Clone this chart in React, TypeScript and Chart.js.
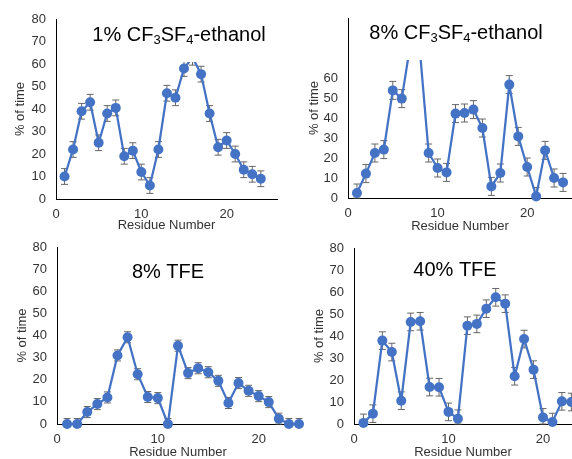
import React, { useEffect, useRef } from 'react';
import { Chart, registerables } from 'chart.js';

Chart.register(...registerables);

// ---------- data ----------
const residues24 = [1, 2, 3, 4, 5, 6, 7, 8, 9, 10, 11, 12, 13, 14, 15, 16, 17, 18, 19, 20, 21, 22, 23, 24];
const residues23 = [1, 2, 3, 4, 5, 6, 7, 8, 9, 10, 11, 12, 13, 14, 15, 16, 17, 18, 19, 20, 21, 22, 23];

const cf1Values = [10, 22, 39, 43, 25, 38, 40.5, 19, 21.5, 12, 6, 22, 47, 45, 58, 63, 55.5, 38, 23, 26, 20, 13, 11, 9];
const cf1Errors = [3.5, 3.5, 3.5, 3.5, 3.5, 3.5, 3.5, 3.5, 3.5, 3.5, 3.5, 3.5, 3.5, 3.5, 3.5, 3.5, 3.5, 3.5, 3.5, 3.5, 3.5, 3.5, 3.5, 3.5];

const cf8Values = [2.5, 12.2, 22.5, 24.2, 53.8, 49.7, 78, 75, 22.5, 15, 12.8, 42.2, 42.5, 44.2, 35, 5.8, 12.5, 56.7, 30.8, 15.5, 0.8, 23.8, 10, 7.8];
const cf8Errors = [4.5, 4.5, 4.5, 4.5, 4.5, 4.5, 4.5, 4.5, 4.5, 4.5, 4.5, 4.5, 4.5, 4.5, 4.5, 4.5, 4.5, 4.5, 4.5, 4.5, 4.5, 4.5, 4.5, 4.5];

const tfe8Values = [0, 0, 5.4, 9, 12, 31, 39.2, 22.5, 12.2, 11.7, 0, 35.4, 23, 25.2, 23.4, 19.5, 9.5, 18.5, 15, 12.6, 9.9, 2.4, 0, 0];
const tfe8Errors = [2.5, 2.5, 2.5, 2.5, 2.5, 2.5, 2.5, 2.5, 2.5, 2.5, 2.5, 2.5, 2.5, 2.5, 2.5, 2.5, 2.5, 2.5, 2.5, 2.5, 2.5, 2.5, 2.5, 2.5];

const tfe40Values = [0.5, 4.7, 37.9, 32.7, 10.6, 46.4, 46.7, 16.8, 16.7, 5.5, 2.4, 44.7, 45.5, 52.4, 57.6, 54.7, 21.7, 38.6, 24.7, 3, 0.9, 10.3, 10];
const tfe40Errors = [4, 4, 4, 4, 4, 4, 4, 4, 4, 4, 4, 4, 4, 4, 4, 4, 4, 4, 4, 4, 4, 4, 4];

const title1 = [{ t: '1% CF' }, { t: '3', sub: true }, { t: 'SF' }, { t: '4', sub: true }, { t: '-ethanol' }];
const title2 = [{ t: '8% CF' }, { t: '3', sub: true }, { t: 'SF' }, { t: '4', sub: true }, { t: '-ethanol' }];
const title3 = [{ t: '8% TFE' }];
const title4 = [{ t: '40% TFE' }];

const xAxisTitle = 'Residue Number';
const yAxisTitle = '% of time';

// ---------- style ----------
const FONT = '"Liberation Sans", Arial, Helvetica, sans-serif';
const BLUE = '#4472C4';
const TEXT = '#333333';
const ERR = '#666666';

type Seg = { t: string; sub?: boolean };

interface PanelProps {
  left: number; top: number; width: number; height: number;
  padTop: number; padRight: number; yWidth: number; xHeight: number;
  xMax: number; yMax: number; yLabelMax: number;
  xs: number[]; ys: number[]; errs: number[];
  title: Seg[]; titleX: number; titleBase: number; maskBottom: number | null;
  yTitlePad: number; xTitlePad: number;
}

function Panel(p: PanelProps) {
  const ref = useRef<HTMLCanvasElement | null>(null);
  useEffect(() => {
    if (!ref.current) return;
    const errorBars = {
      id: 'errorBars',
      beforeDatasetsDraw(chart: any) {
        const ctx = chart.ctx;
        const meta = chart.getDatasetMeta(0);
        const ys = chart.scales.y;
        ctx.save();
        ctx.strokeStyle = ERR;
        ctx.lineWidth = 1;
        meta.data.forEach((pt: any, i: number) => {
          const v = p.ys[i];
          const e = p.errs[i];
          const yt = ys.getPixelForValue(v + e);
          const yb = ys.getPixelForValue(Math.max(0, v - e));
          const x = pt.x;
          ctx.beginPath();
          ctx.moveTo(x, yt); ctx.lineTo(x, yb);
          ctx.moveTo(x - 3.5, yt); ctx.lineTo(x + 3.5, yt);
          ctx.moveTo(x - 3.5, yb); ctx.lineTo(x + 3.5, yb);
          ctx.stroke();
        });
        ctx.restore();
      },
    };
    const titlePlugin = {
      id: 'panelTitle',
      afterDatasetsDraw(chart: any) {
        const ctx = chart.ctx;
        const ca = chart.chartArea;
        ctx.save();
        if (p.maskBottom !== null) {
          ctx.fillStyle = '#ffffff';
          ctx.fillRect(ca.left + 1, 0, chart.width - ca.left - 1, p.maskBottom);
        }
        const main = `20px ${FONT}`;
        const sub = `13px ${FONT}`;
        let w = 0;
        p.title.forEach((s) => { ctx.font = s.sub ? sub : main; w += ctx.measureText(s.t).width; });
        let x = p.titleX - w / 2;
        ctx.fillStyle = '#000000';
        ctx.textBaseline = 'alphabetic';
        ctx.textAlign = 'left';
        p.title.forEach((s) => {
          ctx.font = s.sub ? sub : main;
          ctx.fillText(s.t, x, p.titleBase + (s.sub ? 3 : 0));
          x += ctx.measureText(s.t).width;
        });
        ctx.restore();
      },
    };
    const chart = new Chart(ref.current, {
      type: 'line',
      data: {
        datasets: [{
          data: p.xs.map((r, i) => ({ x: r, y: p.ys[i] })),
          borderColor: BLUE,
          backgroundColor: BLUE,
          borderWidth: 2.25,
          pointRadius: 5,
          pointBorderWidth: 0,
          pointBackgroundColor: BLUE,
          tension: 0,
          clip: false as any,
        }],
      },
      options: {
        animation: false,
        responsive: false,
        devicePixelRatio: 1,
        layout: { padding: { left: 0, top: p.padTop, right: p.padRight, bottom: 0 } },
        plugins: { legend: { display: false }, tooltip: { enabled: false } },
        scales: {
          x: {
            type: 'linear',
            min: 0,
            max: p.xMax,
            grid: { display: false, drawTicks: false },
            border: { display: true, color: '#000000', width: 1 },
            ticks: { stepSize: 10, includeBounds: false, padding: 8, color: TEXT, font: { size: 13, family: FONT }, maxRotation: 0 },
            title: { display: true, text: xAxisTitle, color: TEXT, font: { size: 13, family: FONT, lineHeight: 1 }, padding: { top: 0, bottom: p.xTitlePad } },
            afterFit: (s: any) => { s.height = p.xHeight; s.paddingLeft = 0; s.paddingRight = 0; },
          },
          y: {
            type: 'linear',
            min: 0,
            max: p.yMax,
            grid: { display: false, drawTicks: false },
            border: { display: true, color: '#000000', width: 1 },
            ticks: {
              stepSize: 10, padding: 10, color: TEXT, font: { size: 13, family: FONT },
              callback: (v: any) => (Number(v) > p.yLabelMax ? '' : String(v)),
            },
            title: { display: true, text: yAxisTitle, color: TEXT, font: { size: 13, family: FONT, lineHeight: 1 }, padding: { top: p.yTitlePad, bottom: 0 } },
            afterFit: (s: any) => { s.width = p.yWidth; s.paddingTop = 0; s.paddingBottom = 0; },
          },
        },
      },
      plugins: [errorBars, titlePlugin],
    } as any);
    return () => chart.destroy();
  }, []);
  return (
    <div style={{ position: 'absolute', left: p.left, top: p.top, width: p.width, height: p.height }}>
      <canvas ref={ref} width={p.width} height={p.height} style={{ display: 'block', width: p.width, height: p.height }} />
    </div>
  );
}

export default function App() {
  return (
    <div style={{ position: 'absolute', left: 0, top: 0, width: 572, height: 459, background: '#ffffff', overflow: 'hidden' }}>
      <Panel left={0} top={0} width={286} height={235} padTop={19} padRight={9} yWidth={56} xHeight={36}
        xMax={25.9} yMax={80} yLabelMax={80} xs={residues24} ys={cf1Values} errs={cf1Errors}
        title={title1} titleX={179} titleBase={41} maskBottom={62} yTitlePad={13.5} xTitlePad={3.5} />
      <Panel left={286} top={0} width={291} height={235} padTop={18} padRight={5} yWidth={62} xHeight={37}
        xMax={25} yMax={90} yLabelMax={60} xs={residues24} ys={cf8Values} errs={cf8Errors}
        title={title2} titleX={170} titleBase={39} maskBottom={60} yTitlePad={21.5} xTitlePad={2.5} />
      <Panel left={0} top={235} width={304} height={224} padTop={12} padRight={5} yWidth={57} xHeight={35}
        xMax={24} yMax={80} yLabelMax={80} xs={residues24} ys={tfe8Values} errs={tfe8Errors}
        title={title3} titleX={168} titleBase={43} maskBottom={null} yTitlePad={15.5} xTitlePad={0} />
      <Panel left={304} top={235} width={273} height={224} padTop={13} padRight={5} yWidth={50} xHeight={35}
        xMax={23.07} yMax={80} yLabelMax={80} xs={residues23} ys={tfe40Values} errs={tfe40Errors}
        title={title4} titleX={151} titleBase={41} maskBottom={null} yTitlePad={8.5} xTitlePad={0} />
    </div>
  );
}
